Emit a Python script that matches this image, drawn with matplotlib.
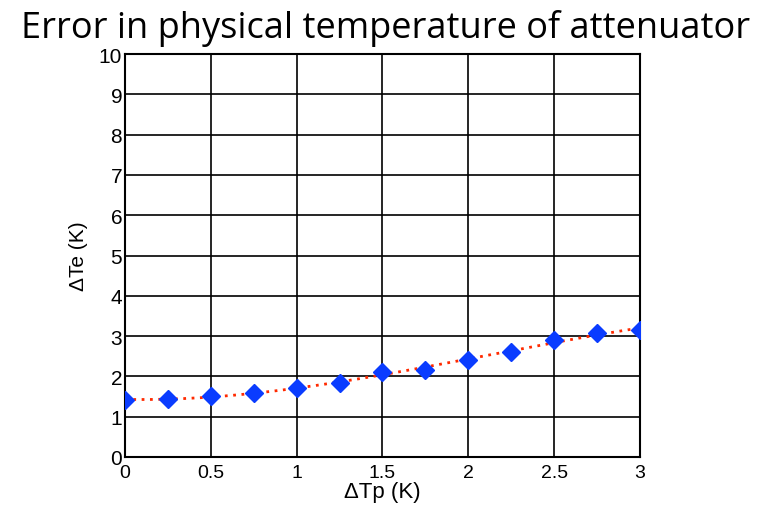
import matplotlib
matplotlib.use("Agg")
import matplotlib.pyplot as plt
import numpy as np

# data
dtp = [0, 0.25, 0.5, 0.75, 1, 1.25, 1.5, 1.75, 2, 2.25, 2.5, 2.75, 3]
dte = [1.41, 1.44, 1.52, 1.58, 1.72, 1.83, 2.10, 2.16, 2.41, 2.61, 2.91, 3.08, 3.15]

xticks = [0, 0.5, 1, 1.5, 2, 2.5, 3]
xticklabels = ["0", "0.5", "1", "1.5", "2", "2.5", "3"]
yticks = list(range(0, 11))

fig = plt.figure(figsize=(7.63, 5.10), dpi=100)
ax = fig.add_axes([0.1638, 0.102, 0.675, 0.790])

# trend line (polynomial fit of the points)
coef = np.polyfit(dtp, dte, 3)
xs = np.linspace(0, 3, 200)
ax.plot(xs, np.polyval(coef, xs), color="#ff2a00", linestyle=(0, (1, 2)), linewidth=2, zorder=3)
ax.plot(dtp, dte, linestyle="none", marker="D", markersize=9, color="#0a3cff", zorder=4)

ax.set_xlim(0, 3)
ax.set_ylim(0, 10)
ax.set_xticks(xticks)
ax.set_xticklabels(xticklabels)
ax.set_yticks(yticks)
ax.grid(True, color="black", linewidth=1.2)
ax.set_axisbelow(True)
for s in ax.spines.values():
    s.set_linewidth(1.5)
ax.tick_params(axis="y", labelsize=15, length=0, pad=2)
ax.tick_params(axis="x", labelsize=14, length=0, pad=5)
for lbl in ax.get_xticklabels() + ax.get_yticklabels():
    lbl.set_fontfamily("Liberation Sans")

ax.set_xlabel("ΔTp (K)", fontsize=16, family="Liberation Sans", labelpad=0)
ax.set_ylabel("ΔTe (K)", fontsize=15, family="Liberation Sans", labelpad=8)

fig.text(0.505, 0.945, "Error in physical temperature of attenuator", ha="center", va="center",
         fontsize=26, family="Open Sans")

fig.savefig("out.png", dpi=100)
